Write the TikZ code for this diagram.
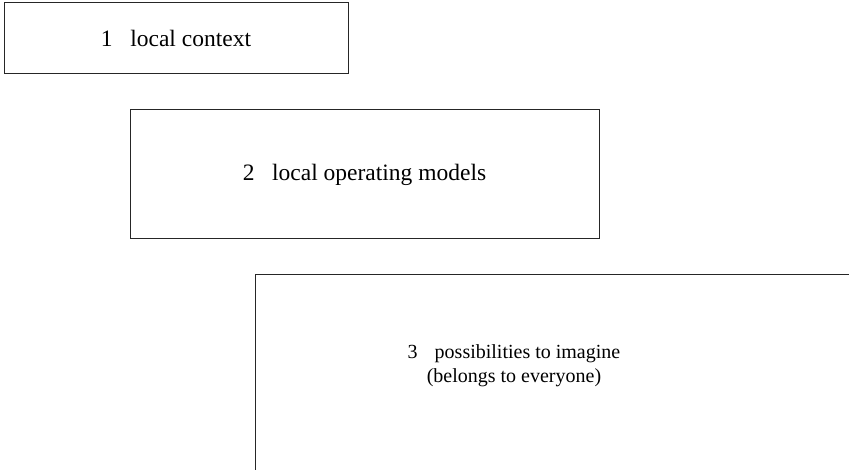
\documentclass[tikz,border=0pt]{standalone}
\usepackage{fontspec}
\setmainfont{Liberation Serif}
\usetikzlibrary{positioning}
\tikzset{
  stage/.style={draw=black!85,line width=1pt,rectangle,align=center,
    font=\fontsize{23.5}{25}\selectfont},
  stagetext/.style={align=center,font=\fontsize{20}{24}\selectfont}
}
\begin{document}
\begin{tikzpicture}[x=1pt,y=-1pt]
        \useasboundingbox (0,0) rectangle (849,470);
        \clip (0,0) rectangle (849,470);
        \node[stage,minimum width=344pt,minimum height=71pt] (context) at (176,38.5) {1\hspace{0.75em}local context};
        \node[stage,minimum width=469pt,minimum height=129pt] (models) at (364.5,174.5) {2\hspace{0.75em}local operating models};
        % third box runs off the page
        \draw[draw=black!85,line width=1pt] (255,275) rectangle (880,500);
        \node[stagetext] (imagine) at (514,366) {3\hspace{0.85em}possibilities to imagine\\(belongs to everyone)};
\end{tikzpicture}
\end{document}
